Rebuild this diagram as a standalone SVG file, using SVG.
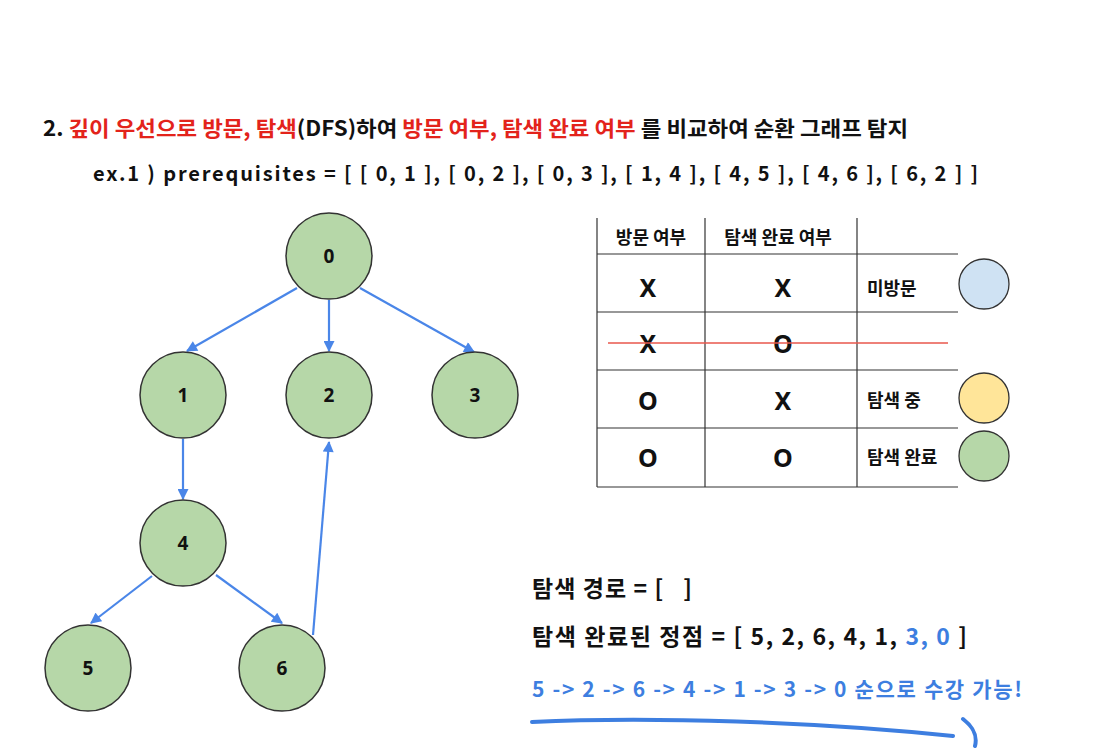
<svg xmlns="http://www.w3.org/2000/svg" width="1097" height="748" viewBox="0 0 1097 748">
<style>
.t{font-family:"Noto Sans CJK KR","Noto Sans",sans-serif;font-weight:700;fill:#111}
.r{fill:#e3231b}
.b{fill:#3d7ee0}
.node circle{fill:#b6d7a8;stroke:#333;stroke-width:1.5}
.node text{font-family:"Noto Sans","Noto Sans CJK KR",sans-serif;font-weight:700;font-size:19px;fill:#111;text-anchor:middle}
.edge{stroke:#4a86e8;stroke-width:2.2;fill:none;marker-end:url(#ah)}
.grid{stroke:#333;stroke-width:1.2}
.cell{font-family:"Noto Sans CJK KR","Noto Sans",sans-serif;font-weight:700;fill:#111}
.mark{font-size:25px;text-anchor:middle;font-family:"Noto Sans","Noto Sans CJK KR",sans-serif;font-weight:700;fill:#111}
</style>
<defs>
<marker id="ah" viewBox="0 0 10 10" refX="9" refY="5" markerWidth="12" markerHeight="11" orient="auto" markerUnits="userSpaceOnUse">
<path d="M0,0 L10,5 L0,10 z" fill="#4a86e8"/>
</marker>
</defs>
<rect width="1097" height="748" fill="#fff"/>
<text class="t" x="43" y="136" font-size="21" textLength="865" lengthAdjust="spacingAndGlyphs">2. <tspan class="r">깊이 우선으로 방문, 탐색</tspan>(DFS)하여 <tspan class="r">방문 여부, 탐색 완료 여부</tspan> 를 비교하여 순환 그래프 탐지</text>
<text class="t" x="93" y="181" font-size="20" textLength="885" lengthAdjust="spacing">ex.1 ) prerequisites = [ [ 0, 1 ], [ 0, 2 ], [ 0, 3 ], [ 1, 4 ], [ 4, 5 ], [ 4, 6 ], [ 6, 2 ] ]</text>
<g id="connectors">
<line class="edge" x1="297" y1="288" x2="187" y2="351"/>
<line class="edge" x1="329" y1="300" x2="329" y2="351"/>
<line class="edge" x1="360" y1="288" x2="474" y2="352"/>
<line class="edge" x1="183" y1="439" x2="183" y2="499"/>
<line class="edge" x1="152" y1="576" x2="91" y2="623"/>
<line class="edge" x1="216" y1="575" x2="282" y2="623"/>
<line class="edge" x1="313" y1="635" x2="329" y2="442"/>
</g>
<g id="node0" class="node"><circle cx="329" cy="256" r="43"/><text x="329" y="263">0</text></g>
<g id="node1" class="node"><circle cx="183" cy="395" r="43"/><text x="183" y="402">1</text></g>
<g id="node2" class="node"><circle cx="329" cy="395" r="43"/><text x="329" y="402">2</text></g>
<g id="node3" class="node"><circle cx="475" cy="395" r="43"/><text x="475" y="402">3</text></g>
<g id="node4" class="node"><circle cx="183" cy="543" r="43"/><text x="183" y="550">4</text></g>
<g id="node5" class="node"><circle cx="88" cy="668" r="43"/><text x="88" y="675">5</text></g>
<g id="node6" class="node"><circle cx="282" cy="668" r="43"/><text x="282" y="675">6</text></g>
<g id="table">
<line class="grid" x1="597" y1="218" x2="597" y2="487"/>
<line class="grid" x1="705" y1="218" x2="705" y2="487"/>
<line class="grid" x1="857" y1="218" x2="857" y2="487"/>
<line class="grid" x1="597" y1="254" x2="958" y2="254"/>
<line class="grid" x1="597" y1="312" x2="958" y2="312"/>
<line class="grid" x1="597" y1="370" x2="958" y2="370"/>
<line class="grid" x1="597" y1="428" x2="958" y2="428"/>
<line class="grid" x1="597" y1="487" x2="958" y2="487"/>
<text class="cell" x="651" y="244" font-size="18" text-anchor="middle">방문 여부</text>
<text class="cell" x="778" y="244" font-size="18" text-anchor="middle">탐색 완료 여부</text>
<text class="mark" x="648" y="297">X</text>
<text class="mark" x="783" y="297">X</text>
<text class="cell" x="867" y="295" font-size="18">미방문</text>
<text class="mark" x="648" y="353">X</text>
<text class="mark" x="783" y="353">O</text>
<line x1="608" y1="343" x2="948" y2="343" stroke="#e8574c" stroke-width="1.5"/>
<text class="mark" x="648" y="410">O</text>
<text class="mark" x="783" y="410">X</text>
<text class="cell" x="867" y="407" font-size="18">탐색 중</text>
<text class="mark" x="648" y="467">O</text>
<text class="mark" x="783" y="467">O</text>
<text class="cell" x="867" y="464" font-size="18">탐색 완료</text>
<circle cx="984" cy="284" r="25" fill="#cfe2f3" stroke="#333" stroke-width="1.3"/>
<circle cx="984" cy="398" r="25" fill="#ffe599" stroke="#333" stroke-width="1.3"/>
<circle cx="984" cy="456" r="25" fill="#b6d7a8" stroke="#333" stroke-width="1.3"/>
</g>
<text class="t" x="532" y="597" font-size="23" textLength="160" lengthAdjust="spacing">탐색 경로 = [&#160;&#160;&#160;]</text>
<text class="t" x="532" y="645" font-size="23" textLength="435" lengthAdjust="spacing">탐색 완료된 정점 = [ 5, 2, 6, 4, 1, <tspan class="b">3, 0</tspan> ]</text>
<text class="t b" x="532" y="697" font-size="21" textLength="490" lengthAdjust="spacing">5 -&gt; 2 -&gt; 6 -&gt; 4 -&gt; 1 -&gt; 3 -&gt; 0 순으로 수강 가능!</text>
<path d="M532,722 C650,716 820,722 953,736" stroke="#3d7ee0" stroke-width="4" fill="none" stroke-linecap="round"/>
<path d="M963,719 C972,726 978,734 975,746" stroke="#3d7ee0" stroke-width="4" fill="none" stroke-linecap="round"/>
</svg>
